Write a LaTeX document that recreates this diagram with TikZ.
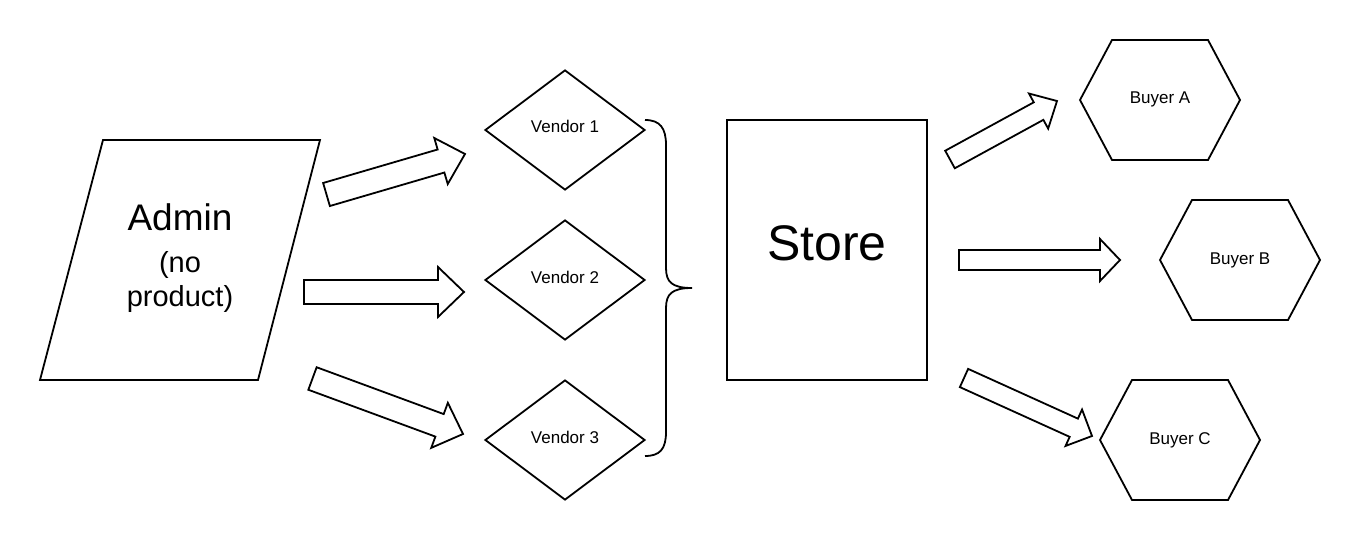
\documentclass[tikz,border=0pt]{standalone}
\usepackage{fontspec}
\setmainfont{Liberation Sans}
\usetikzlibrary{calc,shapes.geometric}
\tikzset{
  shp/.style={draw=black, line width=1.8pt, fill=white},
  blk/.style={draw=black, line width=1.8pt, fill=white, line join=miter},
  lbl/.style={anchor=base, inner sep=0pt, font=\fontsize{17}{20}\selectfont},
  vendorshape/.style={shp, diamond, minimum width=160pt, minimum height=120pt, inner sep=0pt},
}
% #1 tail, #2 tip, #3 half shaft width, #4 half head width, #5 head length
\newcommand\blockarrow[5]{%
  \coordinate (ba-c) at ($(#2)!#5!(#1)$);
  \draw[blk] ($(#1)!#3!90:(#2)$) -- ($(ba-c)!#3!-90:(#1)$) -- ($(ba-c)!#4!-90:(#1)$)
    -- (#2) -- ($(ba-c)!#4!90:(#1)$) -- ($(ba-c)!#3!90:(#1)$) -- ($(#1)!#3!-90:(#2)$) -- cycle;}
\newcommand\hexa[2]{%
  \draw[shp] (#1-80,#2) -- (#1-48,#2-60) -- (#1+48,#2-60) -- (#1+80,#2)
    -- (#1+48,#2+60) -- (#1-48,#2+60) -- cycle;}
\begin{document}
\begin{tikzpicture}[x=1pt,y=-1pt]
\useasboundingbox[fill=white] (0,0) rectangle (1360,540);

% Admin parallelogram
\draw[shp] (103,140) -- (320,140) -- (258,380) -- (40,380) -- cycle;
\node[anchor=base, inner sep=0pt, font=\fontsize{37}{40}\selectfont] (admin) at (180,230) {Admin};
\node[anchor=base, inner sep=0pt, font=\fontsize{29}{32}\selectfont] (adminb) at (180,272) {(no};
\node[anchor=base, inner sep=0pt, font=\fontsize{29}{32}\selectfont] (adminc) at (180,306) {product)};

% Vendors
\node[vendorshape] (v1) at (565,130) {};
\node[vendorshape] (v2) at (565,280) {};
\node[vendorshape] (v3) at (565,440) {};
\node[lbl] (v1t) at (565,133) {Vendor 1};
\node[lbl] (v2t) at (565,283) {Vendor 2};
\node[lbl] (v3t) at (565,443) {Vendor 3};

% Brace
\draw[line width=1.8pt] (645,120) .. controls (660,120) and (666,128) .. (666,145)
  -- (666,268) .. controls (666,282) and (672,288) .. (692,288)
  .. controls (672,288) and (666,294) .. (666,308)
  -- (666,432) .. controls (666,449) and (660,456) .. (645,456);

% Store
\node[shp, minimum width=200pt, minimum height=260pt, inner sep=0pt] (store) at (827,250) {};
\node[anchor=base, inner sep=0pt, font=\fontsize{50}{54}\selectfont] (storet) at (827,260) {Store};

% Buyers
\hexa{1160}{100}
\hexa{1240}{260}
\hexa{1180}{440}
\node[lbl] (ba) at (1160,104) {Buyer A};
\node[lbl] (bb) at (1240,264) {Buyer B};
\node[lbl] (bc) at (1180,444) {Buyer C};

% Block arrows
\coordinate (a1t) at (326.5,194.5); \coordinate (a1h) at (465,154);
\coordinate (a2t) at (304,292);     \coordinate (a2h) at (464,292);
\coordinate (a3t) at (312.5,378.5); \coordinate (a3h) at (463,434);
\coordinate (a4t) at (950,159.5);   \coordinate (a4h) at (1057,101);
\coordinate (a5t) at (959,260);     \coordinate (a5h) at (1120,260);
\coordinate (a6t) at (964,378);     \coordinate (a6h) at (1092,436);
\blockarrow{a1t}{a1h}{12pt}{24pt}{25pt}
\blockarrow{a2t}{a2h}{12pt}{25pt}{26pt}
\blockarrow{a3t}{a3h}{12pt}{24pt}{25pt}
\blockarrow{a4t}{a4h}{10pt}{20pt}{21pt}
\blockarrow{a5t}{a5h}{10pt}{21pt}{20pt}
\blockarrow{a6t}{a6h}{10pt}{20pt}{20pt}
\end{tikzpicture}
\end{document}
